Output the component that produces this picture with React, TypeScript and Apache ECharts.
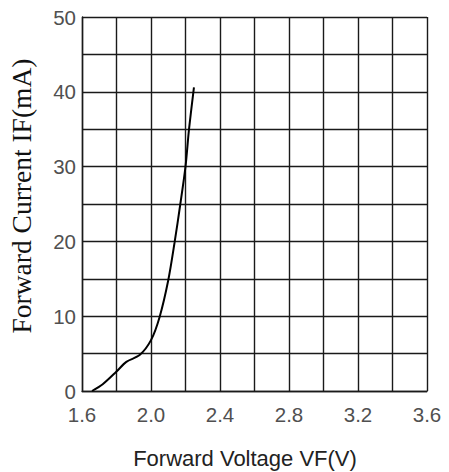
import React, { useEffect, useRef } from "react";
import * as echarts from "echarts";

const voltage = [1.658, 1.72, 1.8, 1.857, 1.934, 2.0, 2.05, 2.1, 2.137, 2.17, 2.2, 2.22, 2.249];
const current = [0, 0.9, 2.6, 3.9, 4.8, 6.8, 9.9, 14.8, 19.9, 25.0, 30.0, 34.9, 40.6];
const xTitle = "Forward Voltage VF(V)";
const yTitle = "Forward Current IF(mA)";

export default function App() {
  const ref = useRef<HTMLDivElement>(null);
  useEffect(() => {
    if (!ref.current) return;
    const chart = echarts.init(ref.current, undefined, { renderer: "svg" });
    const data = voltage.map((v, i) => [v, current[i]]);
    const gridLine = { show: true, lineStyle: { color: "#1a1a1a", width: 1.4 } };
    chart.setOption({
      animation: false,
      backgroundColor: "#ffffff",
      grid: { left: 82, right: 22, top: 17, bottom: 81 },
      xAxis: {
        type: "value",
        min: 1.6,
        max: 3.6,
        interval: 0.2,
        axisLine: { show: true, lineStyle: { color: "#1a1a1a", width: 1.4 } },
        axisTick: { show: false },
        splitLine: gridLine,
        axisLabel: {
          color: "#505050",
          fontSize: 20.5,
          fontFamily: "Liberation Sans, Arial, sans-serif",
          margin: 13,
          formatter: (v: number) => (Math.round(v * 10) % 4 === 0 ? v.toFixed(1) : ""),
        },
      },
      yAxis: {
        type: "value",
        min: 0,
        max: 50,
        interval: 5,
        axisLine: { show: true, lineStyle: { color: "#1a1a1a", width: 1.4 } },
        axisTick: { show: false },
        splitLine: gridLine,
        axisLabel: {
          color: "#505050",
          fontSize: 20.5,
          fontFamily: "Liberation Sans, Arial, sans-serif",
          margin: 6,
          formatter: (v: number) => (Math.round(v) % 10 === 0 ? String(Math.round(v)) : ""),
        },
      },
      graphic: [
        {
          type: "text",
          x: 245,
          y: 458,
          style: {
            text: xTitle,
            fill: "#222",
            fontSize: 22,
            fontFamily: "Liberation Sans, Arial, sans-serif",
            textAlign: "center",
            textVerticalAlign: "middle",
          },
        },
        {
          type: "text",
          x: 21,
          y: 196,
          rotation: Math.PI / 2,
          style: {
            text: yTitle,
            fill: "#111",
            fontSize: 27.5,
            fontFamily: "Liberation Serif, Times New Roman, serif",
            textAlign: "center",
            textVerticalAlign: "middle",
          },
        },
      ],
      series: [
        {
          type: "line",
          data,
          smooth: 0.3,
          showSymbol: false,
          lineStyle: { color: "#000", width: 2 },
        },
      ],
    });
    return () => chart.dispose();
  }, []);
  return (
    <div
      ref={ref}
      style={{ position: "fixed", left: 0, top: 0, width: 449, height: 472 }}
    />
  );
}
